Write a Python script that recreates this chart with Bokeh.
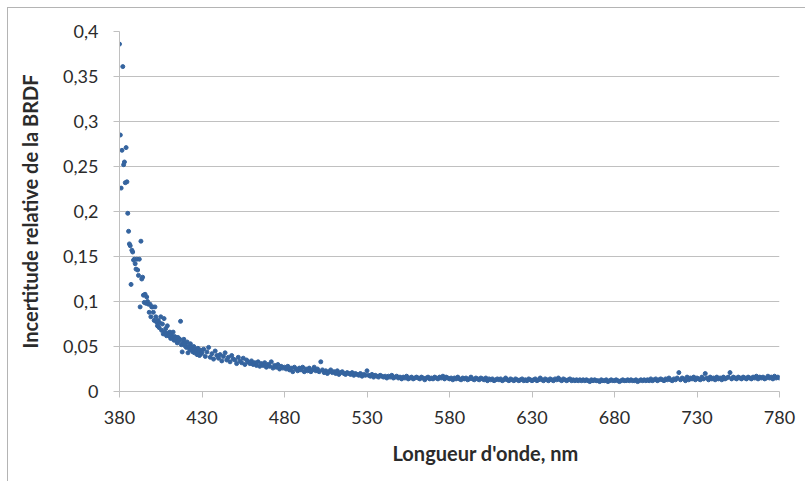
import numpy as np
from bokeh.plotting import figure
from bokeh.models import FixedTicker, ColumnDataSource, Range1d, Title
from bokeh.embed import file_html
from bokeh.resources import INLINE

# Segment A: 380 nm to 429.5 nm, step 0.5 nm
wl_a_start, wl_a_step = 380.0, 0.5
unc_a = [
    0.386, 0.285, 0.226, 0.268, 0.361, 0.252, 0.255, 0.232, 0.271, 0.233,
    0.198, 0.178, 0.164, 0.162, 0.119, 0.157, 0.155, 0.146, 0.147, 0.142,
    0.136, 0.147, 0.135, 0.129, 0.147, 0.094, 0.167, 0.125, 0.127, 0.107,
    0.099, 0.108, 0.098, 0.105, 0.100, 0.097, 0.088, 0.097, 0.083, 0.094,
    0.094, 0.088, 0.079, 0.094, 0.083, 0.077, 0.073, 0.079, 0.071, 0.076,
    0.083, 0.068, 0.075, 0.064, 0.081, 0.066, 0.070, 0.062, 0.073, 0.065,
    0.062, 0.066, 0.059, 0.063, 0.060, 0.066, 0.057, 0.061, 0.057, 0.060,
    0.054, 0.060, 0.056, 0.058, 0.078, 0.052, 0.044, 0.055, 0.058, 0.051,
    0.053, 0.049, 0.055, 0.043, 0.050, 0.047, 0.053, 0.046, 0.049, 0.044,
    0.050, 0.043, 0.047, 0.045, 0.041, 0.048, 0.044, 0.040, 0.046, 0.042,
]

# Segment B: 430 nm to 780 nm, step 1 nm
wl_b_start, wl_b_step = 430.0, 1.0
unc_b = [
    0.043, 0.047, 0.039, 0.044, 0.049, 0.038, 0.042, 0.036, 0.045, 0.040,
    0.037, 0.041, 0.034, 0.039, 0.043, 0.035, 0.038, 0.033, 0.040, 0.036,
    0.035, 0.031, 0.038, 0.034, 0.032, 0.037, 0.030, 0.035, 0.033, 0.031,
    0.034, 0.030, 0.032, 0.029, 0.033, 0.028, 0.031, 0.029, 0.032, 0.027,
    0.030, 0.028, 0.033, 0.026, 0.029, 0.027, 0.030, 0.025, 0.028, 0.026,
    0.027, 0.025, 0.028, 0.024, 0.026, 0.022, 0.027, 0.025, 0.023, 0.026,
    0.024, 0.027, 0.022, 0.025, 0.023, 0.026, 0.022, 0.024, 0.027, 0.023,
    0.025, 0.022, 0.033, 0.024, 0.021, 0.023, 0.020, 0.022, 0.024, 0.021,
    0.022, 0.020, 0.023, 0.019, 0.021, 0.022, 0.020, 0.019, 0.021, 0.020,
    0.019, 0.021, 0.018, 0.020, 0.019, 0.018, 0.020, 0.017, 0.019, 0.018,
    0.023, 0.018, 0.017, 0.019, 0.016, 0.018, 0.017, 0.016, 0.018, 0.017,
    0.016, 0.017, 0.015, 0.017, 0.016, 0.018, 0.015, 0.016, 0.017, 0.015,
    0.016, 0.014, 0.016, 0.015, 0.017, 0.014, 0.015, 0.016, 0.014, 0.015,
    0.016, 0.015, 0.014, 0.016, 0.015, 0.013, 0.015, 0.016, 0.014, 0.015,
    0.014, 0.016, 0.015, 0.014, 0.016, 0.015, 0.017, 0.014, 0.016, 0.015,
    0.014, 0.015, 0.013, 0.015, 0.014, 0.016, 0.014, 0.013, 0.015, 0.014,
    0.015, 0.013, 0.014, 0.016, 0.014, 0.013, 0.015, 0.014, 0.013, 0.015,
    0.014, 0.013, 0.015, 0.012, 0.014, 0.013, 0.014, 0.012, 0.013, 0.014,
    0.013, 0.014, 0.012, 0.013, 0.015, 0.013, 0.012, 0.014, 0.013, 0.012,
    0.014, 0.013, 0.012, 0.013, 0.014, 0.012, 0.013, 0.012, 0.014, 0.013,
    0.012, 0.013, 0.014, 0.012, 0.013, 0.015, 0.013, 0.012, 0.014, 0.013,
    0.012, 0.014, 0.013, 0.012, 0.014, 0.013, 0.015, 0.013, 0.012, 0.014,
    0.013, 0.012, 0.013, 0.014, 0.012, 0.013, 0.012, 0.013, 0.012, 0.013,
    0.012, 0.013, 0.012, 0.013, 0.012, 0.011, 0.013, 0.012, 0.013, 0.012,
    0.012, 0.011, 0.013, 0.012, 0.012, 0.013, 0.011, 0.012, 0.013, 0.012,
    0.012, 0.013, 0.012, 0.011, 0.012, 0.013, 0.012, 0.012, 0.013, 0.012,
    0.013, 0.012, 0.012, 0.013, 0.011, 0.012, 0.013, 0.012, 0.013, 0.012,
    0.013, 0.012, 0.014, 0.012, 0.013, 0.014, 0.012, 0.013, 0.014, 0.013,
    0.012, 0.014, 0.013, 0.015, 0.013, 0.012, 0.014, 0.013, 0.015, 0.021,
    0.013, 0.015, 0.014, 0.012, 0.016, 0.013, 0.015, 0.014, 0.016, 0.013,
    0.015, 0.014, 0.013, 0.016, 0.014, 0.020, 0.015, 0.013, 0.016, 0.014,
    0.015, 0.013, 0.016, 0.014, 0.015, 0.013, 0.016, 0.014, 0.015, 0.016,
    0.021, 0.014, 0.016, 0.015, 0.014, 0.016, 0.015, 0.014, 0.016, 0.015,
    0.014, 0.016, 0.015, 0.014, 0.016, 0.015, 0.017, 0.014, 0.016, 0.015,
    0.016, 0.014, 0.015, 0.017, 0.015, 0.016, 0.014, 0.017, 0.015, 0.016,
    0.015,
]

x_ticks = [380, 430, 480, 530, 580, 630, 680, 730, 780]
y_ticks = [0, 0.05, 0.1, 0.15, 0.2, 0.25, 0.3, 0.35, 0.4]
y_tick_labels = ["0", "0,05", "0,1", "0,15", "0,2", "0,25", "0,3", "0,35", "0,4"]
x_title = "Longueur d'onde, nm"
y_title = "Incertitude relative de la BRDF"

wl = np.concatenate([
    wl_a_start + wl_a_step * np.arange(len(unc_a)),
    wl_b_start + wl_b_step * np.arange(len(unc_b)),
])
unc = np.array(unc_a + unc_b)
src = ColumnDataSource(dict(x=wl, y=unc))

FONT = "Lato"
GRID = "#c0c0c0"
TXT = "#2b2b2b"

p = figure(width=798, height=474, output_backend="svg", toolbar_location=None,
           x_range=Range1d(380, 780), y_range=Range1d(0, 0.4),
           min_border_left=111, min_border_right=27, min_border_top=23, min_border_bottom=91)
p.margin = (7, 0, 0, 7)
p.styles = {"border-left": "1px solid #b4b4b4", "border-top": "1px solid #b4b4b4"}
p.outline_line_color = None
p.background_fill_color = "white"
p.border_fill_color = "white"

p.scatter("x", "y", source=src, size=4.0, marker="circle",
          fill_color="#35649f", line_color="#35649f")

p.xgrid.visible = False
p.ygrid.ticker = FixedTicker(ticks=y_ticks)
p.ygrid.grid_line_color = GRID
p.ygrid.grid_line_width = 1

for ax in (p.xaxis[0], p.yaxis[0]):
    ax.axis_line_color = GRID
    ax.major_tick_line_color = GRID
    ax.major_tick_out = 6
    ax.major_tick_in = 0
    ax.minor_tick_line_color = None
    ax.major_label_text_font = FONT
    ax.major_label_text_font_size = "18px"
    ax.major_label_text_color = TXT
    ax.axis_label_text_font = FONT
    ax.axis_label_text_font_size = "20px"
    ax.axis_label_text_font_style = "bold"
    ax.axis_label_text_color = TXT

p.xaxis.ticker = FixedTicker(ticks=x_ticks)
p.xaxis.major_label_overrides = {t: str(t) for t in x_ticks}
p.xaxis.major_label_standoff = 13

# x-axis title (Excel placed it right of centre): left-aligned with a pixel offset
p.add_layout(Title(text=x_title, align="left", offset=273, standoff=25,
                   text_font=FONT, text_font_size="20px", text_font_style="bold",
                   text_color=TXT), "below")

p.yaxis.ticker = FixedTicker(ticks=y_ticks)
p.yaxis.major_label_overrides = dict(zip(y_ticks, y_tick_labels))
p.yaxis.major_label_standoff = 15
p.yaxis.axis_label = y_title
p.yaxis.axis_label_standoff = 18

open("out.html", "w").write(file_html(p, INLINE))
